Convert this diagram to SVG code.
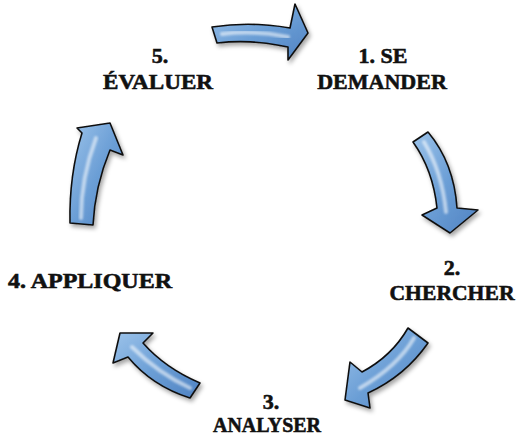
<svg xmlns="http://www.w3.org/2000/svg" width="516" height="436" viewBox="0 0 516 436">
<style>
  .lbl { font-family: "Liberation Serif", "DejaVu Serif", serif; font-weight: bold; font-size: 22px; fill: #111; stroke: #111; stroke-width: 0.6; text-anchor: middle; }
  .arrow { fill: url(#blue); stroke: #111; stroke-width: 1.6; stroke-linejoin: round; filter: url(#shadow); }
  .gloss { fill: none; stroke: #ffffff; stroke-opacity: 0.55; stroke-width: 4; stroke-linecap: round; filter: url(#soft); }
</style>
<defs>
  <linearGradient id="blue" x1="0" y1="0" x2="1" y2="1">
    <stop offset="0" stop-color="#9cc3ea"/>
    <stop offset="0.5" stop-color="#6c9fd6"/>
    <stop offset="1" stop-color="#4f82c2"/>
  </linearGradient>
  <filter id="shadow" x="-20%" y="-20%" width="150%" height="150%">
    <feDropShadow dx="2" dy="3" stdDeviation="2" flood-color="#000" flood-opacity="0.35"/>
  </filter>
  <filter id="soft" x="-20%" y="-20%" width="140%" height="140%">
    <feGaussianBlur stdDeviation="1.2"/>
  </filter>
</defs>

<g id="connectors">
  <g id="arrow-1-2">
    <path class="arrow" d="M212,27 Q251,21 290,28 L295,4 L308,33 L288,60 L288,47 Q252,39 217,43 Z"/>
    <path class="gloss" d="M222,34 Q255,30 288,37"/>
  </g>
  <g id="arrow-2-3">
    <path class="arrow" d="M413,142 Q433,170 437,208 L422,215 L450,233 L478,210 L457,208 Q454,163 428,132 Z"/>
    <path class="gloss" d="M424,142 Q442,172 446,212"/>
  </g>
  <g id="arrow-3-4">
    <path class="arrow" d="M408,328 Q392,356 362,372 L350,362 L345,400 L370,408 L368,393 Q405,376 428,343 Z"/>
    <path class="gloss" d="M414,338 Q398,366 360,388"/>
  </g>
  <g id="arrow-4-5">
    <path class="arrow" d="M200,383 Q165,368 143,343 L153,333 L120,333 L113,363 L128,357 Q152,386 190,398 Z"/>
    <path class="gloss" d="M190,388 Q158,373 132,347"/>
  </g>
  <g id="arrow-5-1">
    <path class="arrow" d="M70,223 Q69,175 82,133 L77,128 L110,123 L123,155 L110,150 Q95,186 93,225 Z"/>
    <path class="gloss" d="M81,218 Q81,178 96,138"/>
  </g>
</g>

<g id="node-1">
  <text class="lbl" x="383" y="63">1. SE</text>
  <text class="lbl" x="382" y="89">DEMANDER</text>
</g>
<g id="node-2">
  <text class="lbl" x="452" y="275">2.</text>
  <text class="lbl" x="452" y="300" textLength="125" lengthAdjust="spacingAndGlyphs">CHERCHER</text>
</g>
<g id="node-3">
  <text class="lbl" x="271" y="409">3.</text>
  <text class="lbl" x="267" y="432" textLength="108" lengthAdjust="spacingAndGlyphs">ANALYSER</text>
</g>
<g id="node-4">
  <text class="lbl" x="90" y="288" textLength="164" lengthAdjust="spacingAndGlyphs">4. APPLIQUER</text>
</g>
<g id="node-5">
  <text class="lbl" x="160" y="63">5.</text>
  <text class="lbl" x="158" y="89" textLength="110" lengthAdjust="spacingAndGlyphs">ÉVALUER</text>
</g>
</svg>
